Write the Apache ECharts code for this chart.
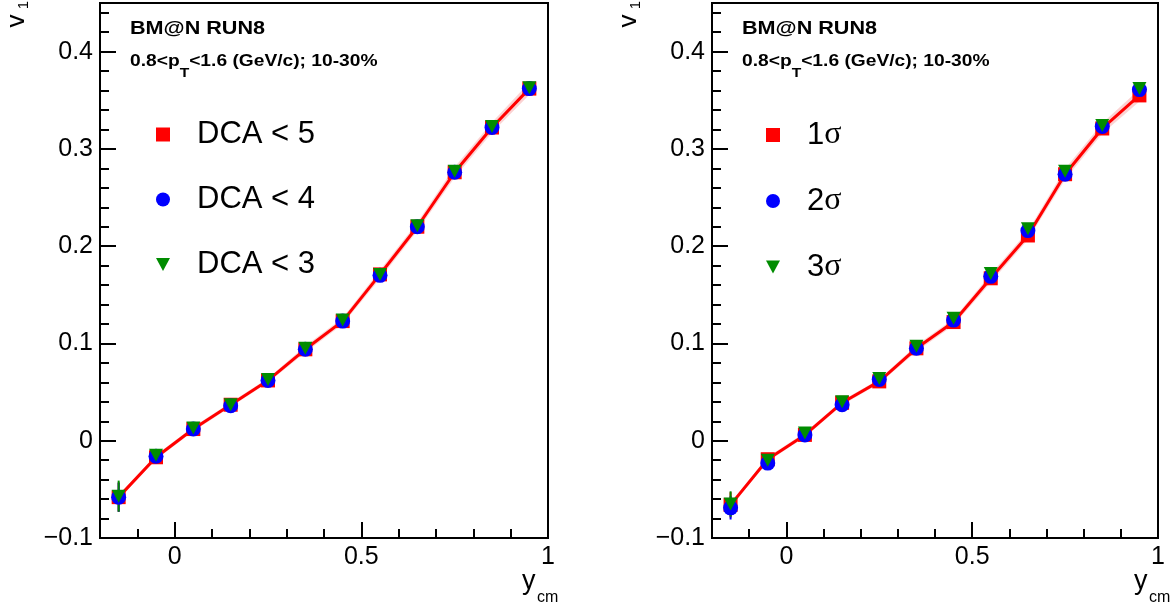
<!DOCTYPE html>
<html>
<head>
<meta charset="utf-8">
<script src="https://cdn.jsdelivr.net/npm/echarts@6/dist/echarts.min.js"></script>
<style>
  html, body { margin: 0; padding: 0; background: #fff; }
  #chart { width: 1171px; height: 613px; }
</style>
</head>
<body>
<div id="chart"></div>
<script>
// Rapidity bins (bin centres, y_cm)
const yBins = [-0.15, -0.05, 0.05, 0.15, 0.25, 0.35, 0.45, 0.55, 0.65, 0.75, 0.85, 0.95];

// Left panel: v1 for different DCA cuts
const dcaNames = ['DCA < 5', 'DCA < 4', 'DCA < 3'];
const v1Dca5 = [-0.058, -0.017, 0.012, 0.037, 0.062, 0.094, 0.123, 0.171, 0.220, 0.276, 0.322, 0.362];
const v1Dca4 = [-0.058, -0.016, 0.012, 0.036, 0.062, 0.094, 0.123, 0.170, 0.220, 0.276, 0.322, 0.362];
const v1Dca3 = [-0.057, -0.015, 0.013, 0.037, 0.063, 0.095, 0.124, 0.171, 0.221, 0.277, 0.323, 0.363];
const errDca5 = [0.015, 0.004, 0.003, 0.003, 0.003, 0.003, 0.003, 0.003, 0.003, 0.003, 0.003, 0.004];
const errDca4 = [0.015, 0.004, 0.003, 0.003, 0.003, 0.003, 0.003, 0.003, 0.003, 0.003, 0.003, 0.004];
const errDca3 = [0.016, 0.004, 0.003, 0.003, 0.003, 0.003, 0.003, 0.003, 0.003, 0.003, 0.003, 0.004];
const sysDca5 = [0.002, 0.002, 0.002, 0.002, 0.002, 0.003, 0.003, 0.004, 0.004, 0.005, 0.005, 0.006];

// Right panel: v1 for different PID selections
const sigNames = ['1σ', '2σ', '3σ'];
const v1Sig1 = [-0.066, -0.019, 0.006, 0.039, 0.061, 0.095, 0.122, 0.167, 0.211, 0.274, 0.321, 0.355];
const v1Sig2 = [-0.069, -0.023, 0.006, 0.037, 0.063, 0.095, 0.124, 0.169, 0.216, 0.274, 0.323, 0.361];
const v1Sig3 = [-0.065, -0.020, 0.008, 0.040, 0.064, 0.097, 0.126, 0.172, 0.218, 0.277, 0.324, 0.362];
const errSig1 = [0.013, 0.004, 0.003, 0.003, 0.003, 0.003, 0.003, 0.003, 0.003, 0.003, 0.003, 0.004];
const errSig2 = [0.012, 0.004, 0.003, 0.003, 0.003, 0.003, 0.003, 0.003, 0.003, 0.003, 0.003, 0.004];
const errSig3 = [0.013, 0.004, 0.003, 0.003, 0.003, 0.003, 0.003, 0.003, 0.003, 0.003, 0.003, 0.004];
const sysSig1 = [0.002, 0.002, 0.002, 0.002, 0.002, 0.003, 0.003, 0.004, 0.004, 0.005, 0.005, 0.006];

// Axis ticks
const xMajorTicks = [0, 0.5, 1];
const yMajorTicks = [-0.1, 0, 0.1, 0.2, 0.3, 0.4];
const X_MIN = -0.2, X_MAX = 1.0, Y_MIN = -0.1, Y_MAX = 0.45;

const RED = '#ff0000', BLUE = '#0000ff', GREEN = '#008c00';
const FONT = '"Liberation Sans", Arial, sans-serif';

function minorTicks(lo, hi, step) {
  const out = [];
  for (let k = 0; lo + k * step <= hi + 1e-9; k++) out.push(+(lo + k * step).toFixed(4));
  return out;
}
const xMinor = minorTicks(X_MIN, X_MAX, 0.1);
const yMinor = minorTicks(Y_MIN, 0.44, 0.02);

const pts = (ys) => yBins.map((x, i) => [x, ys[i]]);
const errData = (ys, es) => yBins.map((x, i) => [x, ys[i] - es[i], ys[i] + es[i]]);
const bandData = (ys, es) => yBins.slice(0, -1).map((x, i) =>
  [x, ys[i] - es[i], ys[i] + es[i], yBins[i + 1], ys[i + 1] - es[i + 1], ys[i + 1] + es[i + 1]]);

const grids = [
  { left: 100, top: 3, width: 448, height: 535 },
  { left: 712, top: 3, width: 446, height: 535 }
];

function axesFor(gi) {
  const tickStyle = { color: '#000', width: 2 };
  const xa = [
    { type: 'value', gridIndex: gi, position: 'bottom', min: X_MIN, max: X_MAX, z: 6,
      axisLine: { show: true, onZero: false, lineStyle: { color: '#000', width: 2 } },
      axisTick: { show: true, inside: true, length: 16, customValues: xMajorTicks, lineStyle: tickStyle },
      axisLabel: { show: true, customValues: xMajorTicks, margin: 7, color: '#000', fontSize: 25, fontFamily: FONT,
        formatter: v => String(v) },
      splitLine: { show: false } },
    { type: 'value', gridIndex: gi, position: 'bottom', min: X_MIN, max: X_MAX, z: 6,
      axisLine: { show: false, onZero: false },
      axisTick: { show: true, inside: true, length: 9, customValues: xMinor, lineStyle: tickStyle },
      axisLabel: { show: false }, splitLine: { show: false } }
  ];
  const ya = [
    { type: 'value', gridIndex: gi, position: 'left', min: Y_MIN, max: Y_MAX, z: 6,
      axisLine: { show: true, onZero: false, lineStyle: { color: '#000', width: 2 } },
      axisTick: { show: true, inside: true, length: 16, customValues: yMajorTicks, lineStyle: tickStyle },
      axisLabel: { show: true, customValues: yMajorTicks, margin: 7, color: '#000', fontSize: 25, fontFamily: FONT,
        formatter: v => (v < 0 ? '\u2212' + String(-v) : String(v)) },
      splitLine: { show: false } },
    { type: 'value', gridIndex: gi, position: 'left', min: Y_MIN, max: Y_MAX, z: 6,
      axisLine: { show: false, onZero: false },
      axisTick: { show: true, inside: true, length: 9, customValues: yMinor, lineStyle: tickStyle },
      axisLabel: { show: false }, splitLine: { show: false } }
  ];
  return { xa, ya };
}
const a0 = axesFor(0), a1 = axesFor(1);

function bandSeries(axisIdx, ys, es) {
  return {
    type: 'custom', xAxisIndex: axisIdx, yAxisIndex: axisIdx, z: 1, silent: true,
    data: bandData(ys, es),
    encode: { x: [0, 3], y: [1, 2, 4, 5] },
    renderItem: (params, api) => {
      const p1 = api.coord([api.value(0), api.value(1)]);
      const p2 = api.coord([api.value(3), api.value(4)]);
      const p3 = api.coord([api.value(3), api.value(5)]);
      const p4 = api.coord([api.value(0), api.value(2)]);
      return { type: 'polygon', shape: { points: [p1, p2, p3, p4] },
        style: { fill: '#fbd2d2', stroke: '#fbd2d2', lineWidth: 0.5 } };
    }
  };
}
function errSeries(axisIdx, ys, es, color, z) {
  return {
    type: 'custom', xAxisIndex: axisIdx, yAxisIndex: axisIdx, z: z, silent: true,
    data: errData(ys, es),
    encode: { x: 0, y: [1, 2] },
    renderItem: (params, api) => {
      const p1 = api.coord([api.value(0), api.value(1)]);
      const p2 = api.coord([api.value(0), api.value(2)]);
      return { type: 'line', shape: { x1: p1[0], y1: p1[1], x2: p2[0], y2: p2[1] },
        style: { stroke: color, lineWidth: 2 } };
    }
  };
}
function markerSeries(axisIdx, name, ys, color, symbol, size, z, withLine) {
  const s = {
    name: name, xAxisIndex: axisIdx, yAxisIndex: axisIdx, z: z,
    data: pts(ys), symbol: symbol, symbolSize: size,
    itemStyle: { color: color, opacity: 1 }, animation: false,
    emphasis: { disabled: true }
  };
  if (withLine) {
    Object.assign(s, { type: 'line', showSymbol: true, lineStyle: { color: color, width: 3 } });
  } else {
    s.type = 'scatter';
  }
  if (symbol === 'triangle') s.symbolRotate = 180;
  return s;
}

const TRI_ICON = 'path://M0,0 L14,0 L7,13 Z';
function legendFor(names, left) {
  return {
    orient: 'vertical', left: left, top: 114, itemWidth: 14, itemHeight: 14, itemGap: 34,
    selectedMode: false,
    textStyle: { fontSize: 31, fontFamily: FONT, color: '#000', lineHeight: 31, padding: [0, 0, 0, 22],
      rich: { n: { fontSize: 31, fontFamily: FONT, color: '#000' },
              g: { fontSize: 32, fontFamily: '"Liberation Serif", "DejaVu Serif", serif', color: '#000' } } },
    formatter: name => name.endsWith('σ') ? '{n|' + name.slice(0, -1) + '}{g|σ}' : name,
    data: [
      { name: names[0], icon: 'rect' },
      { name: names[1], icon: 'circle' },
      { name: names[2], icon: TRI_ICON }
    ]
  };
}

function headerTexts(x0) {
  return [
    { type: 'text', x: x0, y: 20, scaleX: 1.2,
      style: { text: 'BM@N RUN8', fontSize: 18, fontWeight: 'bold', fontFamily: FONT, fill: '#000',
        verticalAlign: 'top' } },
    { type: 'text', x: x0, y: 54, scaleX: 1.2,
      style: { text: '{a|0.8<p}{s|T}{a|<1.6 (GeV/c); 10-30%}', verticalAlign: 'top', fill: '#000',
        rich: {
          a: { fontSize: 16, fontWeight: 'bold', fontFamily: FONT, lineHeight: 18, verticalAlign: 'top', fill: '#000' },
          s: { fontSize: 13, fontWeight: 'bold', fontFamily: FONT, lineHeight: 13, padding: [13, 0, 0, 0], verticalAlign: 'top', fill: '#000' }
        } } }
  ];
}
function axisTitles(dx) {
  return [
    { type: 'text', x: 17 + dx, y: 21, rotation: Math.PI / 2,
      style: { text: 'v', fontSize: 26, fontFamily: FONT, fill: '#000', align: 'center', verticalAlign: 'middle' } },
    { type: 'text', x: 24 + dx, y: 5, rotation: Math.PI / 2,
      style: { text: '1', fontSize: 15, fontFamily: FONT, fill: '#000', align: 'center', verticalAlign: 'middle' } },
    { type: 'text', x: 522 + dx, y: 568,
      style: { text: 'y', fontSize: 27, fontFamily: FONT, fill: '#000', align: 'left', verticalAlign: 'top' } },
    { type: 'text', x: 537 + dx, y: 590,
      style: { text: 'cm', fontSize: 16, fontFamily: FONT, fill: '#000', align: 'left', verticalAlign: 'top' } }
  ];
}

const option = {
  backgroundColor: '#fff',
  animation: false,
  grid: grids.map(g => Object.assign({ show: true, borderColor: '#000', borderWidth: 2, backgroundColor: 'transparent' }, g)),
  xAxis: [...a0.xa, ...a1.xa],
  yAxis: [...a0.ya, ...a1.ya],
  legend: [legendFor(dcaNames, 151), legendFor(sigNames, 761)],
  graphic: [...headerTexts(130), ...headerTexts(742), ...axisTitles(0), ...axisTitles(612)],
  series: [
    // left panel (axes 0)
    bandSeries(0, v1Dca5, sysDca5),
    errSeries(0, v1Dca5, errDca5, RED, 2),
    errSeries(0, v1Dca4, errDca4, BLUE, 2),
    errSeries(0, v1Dca3, errDca3, GREEN, 2),
    markerSeries(0, dcaNames[0], v1Dca5, RED, 'rect', 14, 3, true),
    markerSeries(0, dcaNames[1], v1Dca4, BLUE, 'circle', 15, 4, false),
    markerSeries(0, dcaNames[2], v1Dca3, GREEN, 'triangle', [14, 13], 5, false),
    // right panel (axes 2)
    bandSeries(2, v1Sig1, sysSig1),
    errSeries(2, v1Sig1, errSig1, RED, 2),
    errSeries(2, v1Sig2, errSig2, BLUE, 2),
    errSeries(2, v1Sig3, errSig3, GREEN, 2),
    markerSeries(2, sigNames[0], v1Sig1, RED, 'rect', 14, 3, true),
    markerSeries(2, sigNames[1], v1Sig2, BLUE, 'circle', 15, 4, false),
    markerSeries(2, sigNames[2], v1Sig3, GREEN, 'triangle', [14, 13], 5, false)
  ]
};

const chart = echarts.init(document.getElementById('chart'), null, { renderer: 'canvas' });
chart.setOption(option);
</script>
</body>
</html>
